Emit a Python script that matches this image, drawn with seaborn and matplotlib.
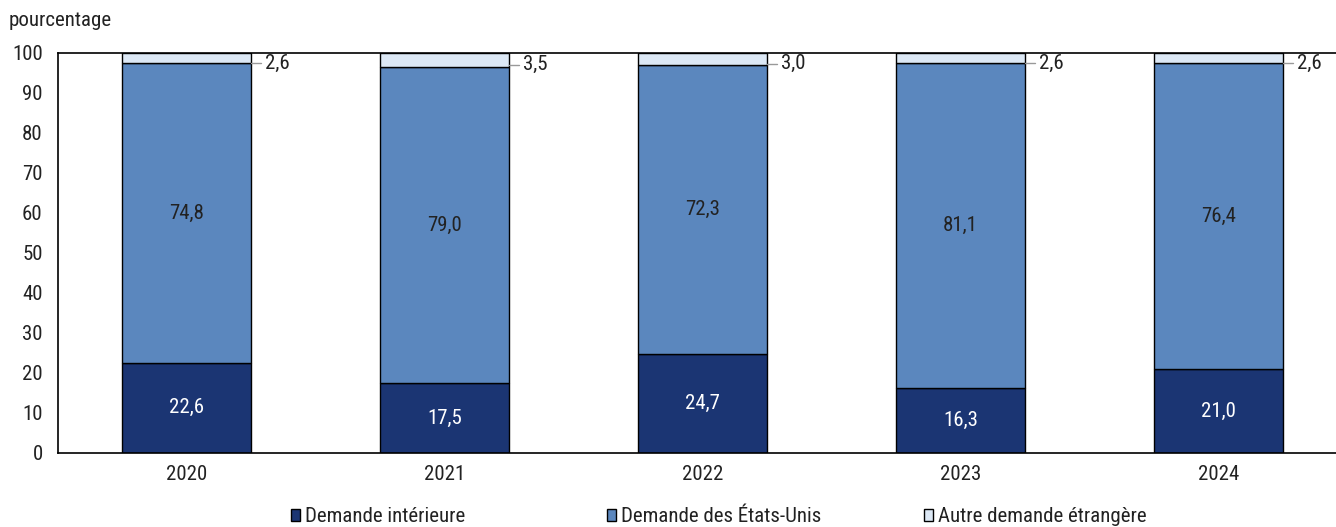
import matplotlib
matplotlib.use("Agg")
import matplotlib.pyplot as plt
import seaborn as sns
import pandas as pd
from matplotlib.patches import Patch
from matplotlib import font_manager

# data
years = ["2020", "2021", "2022", "2023", "2024"]
interieure = [22.6, 17.5, 24.7, 16.3, 21.0]
etats_unis = [74.8, 79.0, 72.3, 81.1, 76.4]
autre = [2.6, 3.5, 3.0, 2.6, 2.6]
series_names = ["Demande intérieure", "Demande des États-Unis", "Autre demande étrangère"]
colors = ["#1b3573", "#5b87be", "#dce8f5"]

df = pd.DataFrame({"year": years, "int": interieure, "us": etats_unis, "autre": autre})
df["b2"] = df["int"]
df["b3"] = df["int"] + df["us"]

sns.set_theme(style="white")
names = {f.name for f in font_manager.fontManager.ttflist}
fams = [n for n in ["Liberation Sans Narrow", "Roboto Condensed", "Open Sans Condensed"] if n in names]
plt.rcParams["font.family"] = fams + ["Roboto", "DejaVu Sans"]
plt.rcParams["font.stretch"] = "condensed"

FS = 15
fig = plt.figure(figsize=(13.36, 5.27), dpi=100)
ax = fig.add_axes([58 / 1336, 1 - 453 / 527, 1278 / 1336, 400 / 527])

sns.barplot(data=df, x="year", y="int", ax=ax, color=colors[0], width=0.5,
            edgecolor="black", linewidth=1, saturation=1)
sns.barplot(data=df, x="year", y="us", ax=ax, color=colors[1], width=0.5,
            edgecolor="black", linewidth=1, saturation=1, bottom=df["b2"])
sns.barplot(data=df, x="year", y="autre", ax=ax, color=colors[2], width=0.5,
            edgecolor="black", linewidth=1, saturation=1, bottom=df["b3"])

fmt = lambda v: f"{v:.1f}".replace(".", ",")
for i, row in df.iterrows():
    ax.text(i, row["int"] / 2, fmt(row["int"]), ha="center", va="center",
            color="white", fontsize=FS)
    ax.text(i, row["int"] + row["us"] / 2, fmt(row["us"]), ha="center", va="center",
            color="#222222", fontsize=FS)
    ymid = row["b3"] + row["autre"] / 2 - 1.2
    ax.plot([i + 0.25, i + 0.29], [ymid, ymid], color="#999999", lw=1, clip_on=False)
    ax.text(i + 0.305, ymid, fmt(row["autre"]), ha="left", va="center",
            color="#222222", fontsize=FS)

ax.set_xlim(-0.498, 4.455)
ax.set_ylim(0, 100)
ax.set_yticks(range(0, 101, 10))
ax.tick_params(axis="y", direction="in", length=5, width=1, color="black",
               labelsize=FS, pad=11)
ax.tick_params(axis="x", length=0, labelsize=FS, pad=9)
ax.set_xlabel("")
ax.set_ylabel("")
for s in ["left", "bottom", "top"]:
    ax.spines[s].set_visible(True)
    ax.spines[s].set_color("black")
    ax.spines[s].set_linewidth(1.2)
ax.spines["right"].set_visible(False)
for lbl in ax.get_xticklabels() + ax.get_yticklabels():
    lbl.set_color("#222222")

fig.text(9 / 1336, 1 - 20 / 527, "pourcentage", fontsize=FS, color="#222222",
         ha="left", va="center")

# legend entries placed individually
for x0, c, name in zip([291, 607, 924], colors, series_names):
    fig.legend([Patch(facecolor=c, edgecolor="black", linewidth=1)], [name],
               loc="center left", bbox_to_anchor=(x0 / 1336, 1 - 517 / 527),
               frameon=False, fontsize=FS, handlelength=0.45, handleheight=0.45,
               handletextpad=0.2, borderpad=0, borderaxespad=0,
               labelcolor="#222222")

fig.savefig("out.png", dpi=100)
